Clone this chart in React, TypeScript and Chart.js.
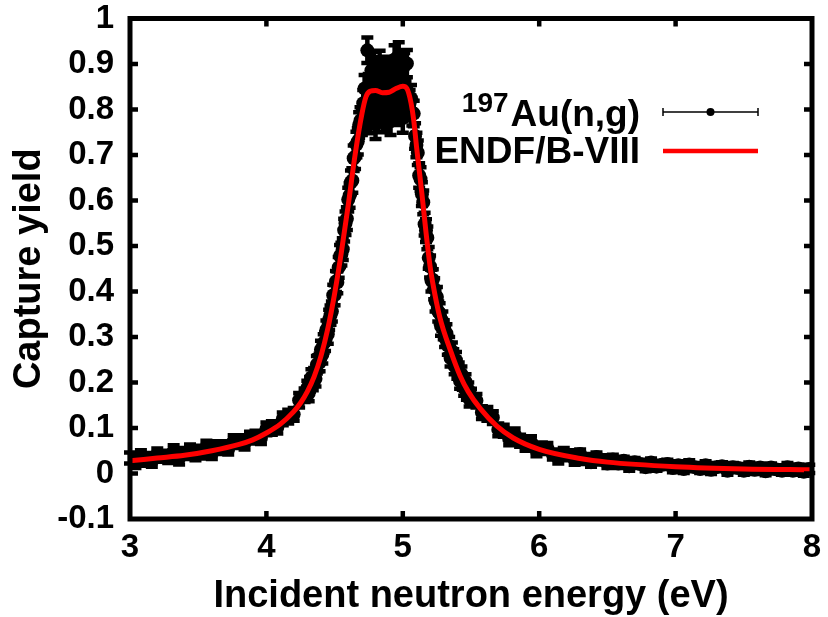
import React, { useEffect, useRef } from "react";
import { Chart, registerables } from "chart.js";

Chart.register(...registerables);

const FONT = "'Liberation Sans', Arial, Helvetica, sans-serif";

// Axis ticks
const xTickValues = [3, 4, 5, 6, 7, 8];
const yTickValues = [-0.1, 0, 0.1, 0.2, 0.3, 0.4, 0.5, 0.6, 0.7, 0.8, 0.9, 1];

// Axis titles and legend labels
const xTitle = "Incident neutron energy (eV)";
const yTitle = "Capture yield";
const expLabelSup = "197";
const expLabel = "Au(n,g)";
const endfLabel = "ENDF/B-VIII";

// ENDF/B-VIII evaluated curve
const endfEnergy = [
  3.0, 3.2, 3.4, 3.6, 3.8, 3.9, 4.0, 4.1, 4.2, 4.25, 4.3, 4.35, 4.4, 4.45, 4.5,
  4.55, 4.6, 4.65, 4.7, 4.73, 4.76, 4.8, 4.85, 4.9, 4.95, 5.0, 5.03, 5.06, 5.08,
  5.1, 5.14, 5.17, 5.2, 5.22, 5.27, 5.35, 5.42, 5.48, 5.57, 5.69, 5.81, 6.0, 6.3,
  6.5, 7.0, 7.5, 8.0,
];
const endfYield = [
  0.028, 0.034, 0.04, 0.05, 0.064, 0.074, 0.089, 0.108, 0.136, 0.155, 0.18, 0.213,
  0.258, 0.318, 0.395, 0.487, 0.59, 0.7, 0.79, 0.828, 0.84, 0.842, 0.837, 0.838,
  0.846, 0.851, 0.846, 0.815, 0.777, 0.72, 0.615, 0.53, 0.455, 0.418, 0.345, 0.27,
  0.215, 0.18, 0.142, 0.104, 0.078, 0.053, 0.033, 0.025, 0.015, 0.01, 0.008,
];

const expEnergy = [
  3.0, 3.04, 3.08, 3.12, 3.16, 3.2, 3.24, 3.28, 3.32, 3.36, 3.4, 3.44, 3.48, 3.52,
  3.56, 3.6, 3.64, 3.68, 3.72, 3.76, 3.8, 3.84, 3.88, 3.92, 3.96, 4.0, 4.04, 4.08,
  4.12, 4.16, 4.2, 4.24, 4.28,
  4.3, 4.31, 4.32, 4.33, 4.34, 4.35, 4.36, 4.37, 4.38, 4.39, 4.4, 4.41, 4.42, 4.43,
  4.44, 4.45, 4.46, 4.47, 4.48, 4.49, 4.5, 4.51, 4.52, 4.53, 4.54, 4.55, 4.56, 4.57,
  4.58, 4.59, 4.6, 4.61, 4.62, 4.63, 4.64, 4.65, 4.66, 4.67, 4.68, 4.69, 4.7, 4.71,
  4.72, 4.73, 4.74, 4.75, 4.76, 4.77, 4.78, 4.79, 4.8, 4.81, 4.82, 4.83, 4.84, 4.85,
  4.86, 4.87, 4.88, 4.89, 4.9, 4.91, 4.92, 4.93, 4.94, 4.95, 4.96, 4.97, 4.98, 4.99,
  5.0, 5.01, 5.02, 5.03, 5.04,
  5.05, 5.06, 5.07, 5.08, 5.09, 5.1, 5.11, 5.12, 5.13, 5.14, 5.15, 5.16, 5.17, 5.18,
  5.19, 5.2, 5.21, 5.22, 5.23, 5.24, 5.25, 5.26, 5.27, 5.28, 5.29, 5.3, 5.31, 5.32,
  5.33, 5.34, 5.35, 5.36, 5.37, 5.38, 5.39, 5.4, 5.41, 5.42, 5.43, 5.44, 5.45, 5.46,
  5.47, 5.48, 5.49, 5.5,
  5.54, 5.58, 5.62, 5.66, 5.7, 5.74, 5.78, 5.82, 5.86, 5.9, 5.94, 5.98, 6.02, 6.06,
  6.1, 6.14, 6.18, 6.22, 6.26, 6.3, 6.34, 6.38, 6.42, 6.46, 6.5, 6.54, 6.58, 6.62,
  6.66, 6.7, 6.74, 6.78, 6.82, 6.86, 6.9, 6.94, 6.98, 7.02, 7.06, 7.1, 7.14, 7.18,
  7.22, 7.26, 7.3, 7.34, 7.38, 7.42, 7.46, 7.5, 7.54, 7.58, 7.62, 7.66, 7.7, 7.74,
  7.78, 7.82, 7.86, 7.9, 7.94, 7.98,
];
const expYield = [
  0.034, 0.025, 0.04, 0.031, 0.027, 0.042, 0.038, 0.034, 0.049, 0.034, 0.044, 0.051,
  0.041, 0.047, 0.059, 0.044, 0.058, 0.057, 0.054, 0.071, 0.07, 0.066, 0.08, 0.08,
  0.078, 0.098, 0.1, 0.101, 0.12, 0.125, 0.13, 0.161, 0.172,
  0.188, 0.176, 0.196, 0.211, 0.2, 0.214, 0.208, 0.239, 0.242, 0.244, 0.272, 0.261,
  0.286, 0.29, 0.316, 0.306, 0.338, 0.348, 0.356, 0.392, 0.392, 0.422, 0.42, 0.453,
  0.478, 0.482, 0.493, 0.535, 0.55, 0.56, 0.602, 0.611, 0.64, 0.644, 0.693, 0.696,
  0.723, 0.73, 0.766, 0.776, 0.774, 0.814,
  0.846, 0.788, 0.93, 0.848, 0.78, 0.886, 0.822, 0.897, 0.767, 0.861, 0.805, 0.899,
  0.828, 0.877, 0.781, 0.861, 0.791, 0.887, 0.843, 0.774, 0.876, 0.818, 0.91, 0.796,
  0.863, 0.919, 0.81, 0.881, 0.781, 0.895, 0.833, 0.901, 0.805,
  0.814, 0.825, 0.793, 0.791, 0.742, 0.722, 0.705, 0.655, 0.647, 0.614, 0.596, 0.548,
  0.534, 0.518, 0.474, 0.455, 0.424, 0.426, 0.406, 0.379, 0.388, 0.356, 0.352, 0.324,
  0.335, 0.316, 0.298, 0.308, 0.281, 0.281, 0.254, 0.269, 0.254, 0.236, 0.249, 0.226,
  0.226, 0.203, 0.218, 0.201, 0.188, 0.202, 0.178, 0.184, 0.163, 0.171,
  0.16, 0.134, 0.131, 0.123, 0.096, 0.094, 0.076, 0.086, 0.072, 0.062, 0.069, 0.05,
  0.056, 0.055, 0.042, 0.034, 0.045, 0.04, 0.03, 0.043, 0.032, 0.025, 0.036, 0.03,
  0.022, 0.031, 0.022, 0.028, 0.016, 0.025, 0.021, 0.014, 0.024, 0.015, 0.019, 0.021,
  0.012, 0.018, 0.01, 0.02, 0.014, 0.01, 0.018, 0.008, 0.014, 0.016, 0.006, 0.014,
  0.012, 0.006, 0.015, 0.008, 0.013, 0.005, 0.013, 0.009, 0.006, 0.014, 0.006, 0.011,
  0.004, 0.01,
];
const expError = [
  0.012, 0.013, 0.011, 0.014, 0.012, 0.013, 0.012, 0.011, 0.013, 0.014, 0.012, 0.013,
  0.012, 0.014, 0.013, 0.012, 0.013, 0.014, 0.012, 0.013, 0.014, 0.013, 0.012, 0.014,
  0.013, 0.014, 0.015, 0.013, 0.014, 0.015, 0.014, 0.016, 0.015,
  0.016, 0.017, 0.016, 0.018, 0.017, 0.018, 0.017, 0.019, 0.018, 0.019, 0.02, 0.019,
  0.02, 0.021, 0.02, 0.021, 0.022, 0.021, 0.022, 0.023, 0.022, 0.023, 0.024, 0.023,
  0.024, 0.025, 0.024, 0.025, 0.026, 0.025, 0.026, 0.027, 0.026, 0.027, 0.028, 0.027,
  0.028, 0.029, 0.028, 0.029, 0.03, 0.029,
  0.03, 0.031, 0.028, 0.03, 0.032, 0.029, 0.031, 0.03, 0.032, 0.029, 0.031, 0.03,
  0.032, 0.029, 0.031, 0.03, 0.032, 0.029, 0.031, 0.03, 0.032, 0.029, 0.031, 0.03,
  0.032, 0.029, 0.031, 0.03, 0.032, 0.029, 0.031, 0.03, 0.029,
  0.029, 0.029, 0.028, 0.028, 0.028, 0.027, 0.027, 0.027, 0.026, 0.026, 0.026, 0.025,
  0.025, 0.025, 0.024, 0.024, 0.024, 0.023, 0.023, 0.023, 0.022, 0.022, 0.022, 0.021,
  0.021, 0.021, 0.02, 0.02, 0.02, 0.019, 0.019, 0.019, 0.019, 0.018, 0.018, 0.018,
  0.018, 0.017, 0.017, 0.017, 0.017, 0.016, 0.016, 0.016, 0.016, 0.015,
  0.015, 0.014, 0.015, 0.014, 0.014, 0.013, 0.014, 0.013, 0.013, 0.012, 0.013, 0.012,
  0.012, 0.012, 0.011, 0.012, 0.011, 0.011, 0.011, 0.01, 0.011, 0.01, 0.01, 0.01,
  0.01, 0.01, 0.01, 0.009, 0.01, 0.009, 0.009, 0.009, 0.009, 0.009, 0.009, 0.009,
  0.009, 0.009, 0.009, 0.009, 0.009, 0.009, 0.009, 0.009, 0.009, 0.009, 0.009, 0.009,
  0.009, 0.009, 0.009, 0.009, 0.009, 0.009, 0.009, 0.009, 0.009, 0.009, 0.009, 0.009,
  0.009, 0.009,
];

const errorBarPlugin = {
  id: "errorBars",
  beforeDatasetsDraw(chart: any) {
    const { ctx, chartArea } = chart;
    const xs = chart.scales.x;
    const ys = chart.scales.y;
    ctx.save();
    ctx.beginPath();
    ctx.rect(chartArea.left - 7, chartArea.top, chartArea.right - chartArea.left + 14, chartArea.bottom - chartArea.top);
    ctx.clip();
    ctx.strokeStyle = "#000";
    ctx.lineWidth = 4.5;
    ctx.beginPath();
    const n = Math.min(expEnergy.length, expYield.length, expError.length);
    for (let i = 0; i < n; i++) {
      const px = xs.getPixelForValue(expEnergy[i]);
      const pTop = ys.getPixelForValue(expYield[i] + expError[i]);
      const pBot = ys.getPixelForValue(expYield[i] - expError[i]);
      ctx.moveTo(px, pTop);
      ctx.lineTo(px, pBot);
      ctx.moveTo(px - 6, pTop);
      ctx.lineTo(px + 6, pTop);
      ctx.moveTo(px - 6, pBot);
      ctx.lineTo(px + 6, pBot);
    }
    ctx.stroke();
    ctx.restore();
  },
};

const framePlugin = {
  id: "frameLegend",
  afterDraw(chart: any) {
    const { ctx, chartArea } = chart;
    const { left, right, top, bottom } = chartArea;
    const xs = chart.scales.x;
    const ys = chart.scales.y;
    ctx.save();
    // inward ticks on all four sides
    ctx.strokeStyle = "#000";
    ctx.lineWidth = 4.5;
    ctx.lineCap = "butt";
    ctx.beginPath();
    xTickValues.slice(1, -1).forEach((v) => {
      const px = xs.getPixelForValue(v);
      ctx.moveTo(px, bottom);
      ctx.lineTo(px, bottom - 8);
      ctx.moveTo(px, top);
      ctx.lineTo(px, top + 8);
    });
    yTickValues.slice(1, -1).forEach((v) => {
      const py = ys.getPixelForValue(v);
      ctx.moveTo(left, py);
      ctx.lineTo(left + 8, py);
      ctx.moveTo(right, py);
      ctx.lineTo(right - 8, py);
    });
    ctx.stroke();
    // frame
    ctx.lineWidth = 5;
    ctx.lineJoin = "miter";
    ctx.strokeRect(left, top, right - left, bottom - top);

    // legend
    ctx.fillStyle = "#000";
    ctx.textAlign = "right";
    ctx.textBaseline = "alphabetic";
    ctx.font = `bold 37px ${FONT}`;
    const textRight = 640;
    ctx.fillText(expLabel, textRight, 126);
    const w = ctx.measureText(expLabel).width;
    ctx.font = `bold 28px ${FONT}`;
    ctx.fillText(expLabelSup, textRight - w - 2, 112);
    ctx.font = `bold 37px ${FONT}`;
    ctx.fillText(endfLabel, textRight, 163);

    // legend samples
    const sx1 = 663;
    const sx2 = 758;
    const sy1 = 112;
    ctx.lineWidth = 1.5;
    ctx.beginPath();
    ctx.moveTo(sx1, sy1);
    ctx.lineTo(sx2, sy1);
    ctx.moveTo(sx1, sy1 - 4);
    ctx.lineTo(sx1, sy1 + 4);
    ctx.moveTo(sx2, sy1 - 4);
    ctx.lineTo(sx2, sy1 + 4);
    ctx.stroke();
    ctx.beginPath();
    ctx.arc((sx1 + sx2) / 2, sy1, 4, 0, Math.PI * 2);
    ctx.fill();
    ctx.strokeStyle = "#ff0000";
    ctx.lineWidth = 4.5;
    ctx.beginPath();
    ctx.moveTo(sx1, 151);
    ctx.lineTo(sx2, 151);
    ctx.stroke();
    ctx.restore();
  },
};

export default function App() {
  const canvasRef = useRef<HTMLCanvasElement | null>(null);

  useEffect(() => {
    document.body.style.margin = "0";
    const canvas = canvasRef.current;
    if (!canvas) return;
    const chart = new Chart(canvas, {
      type: "scatter",
      data: {
        datasets: [
          {
            type: "line",
            label: endfLabel,
            data: endfEnergy.map((e, i) => ({ x: e, y: endfYield[i] })),
            borderColor: "#ff0000",
            borderWidth: 5,
            pointRadius: 0,
            cubicInterpolationMode: "monotone",
            fill: false,
            order: 0,
          } as any,
          {
            type: "scatter",
            label: expLabelSup + expLabel,
            data: expEnergy.map((e, i) => ({ x: e, y: expYield[i] })),
            pointRadius: 7,
            pointBackgroundColor: "#000",
            pointBorderWidth: 0,
            borderColor: "#000",
            order: 1,
          } as any,
        ],
      },
      options: {
        animation: false,
        responsive: false,
        devicePixelRatio: 1,
        events: [],
        layout: { padding: { top: 18.5, right: 16, left: 0, bottom: 0 } },
        plugins: {
          legend: { display: false },
          tooltip: { enabled: false },
        },
        scales: {
          x: {
            type: "linear",
            min: 3,
            max: 8,
            afterBuildTicks: (scale: any) => {
              scale.ticks = xTickValues.map((v) => ({ value: v }));
            },
            afterFit: (scale: any) => {
              scale.height = 98;
              scale.paddingLeft = 0;
              scale.paddingRight = 0;
            },
            grid: { display: false, drawTicks: false },
            border: { display: false },
            ticks: {
              color: "#000",
              padding: 12,
              maxRotation: 0,
              autoSkip: false,
              font: { family: FONT, size: 33, weight: "bold", lineHeight: 1 },
              callback: (v: any) => String(v),
            },
            title: {
              display: true,
              text: xTitle,
              color: "#000",
              font: { family: FONT, size: 38, weight: "bold", lineHeight: 1.1 },
              padding: { top: 0, bottom: 0 },
            },
          },
          y: {
            type: "linear",
            min: -0.1,
            max: 1,
            afterBuildTicks: (scale: any) => {
              scale.ticks = yTickValues.map((v) => ({ value: v }));
            },
            afterFit: (scale: any) => {
              scale.width = 130;
              scale.paddingTop = 0;
              scale.paddingBottom = 0;
            },
            grid: { display: false, drawTicks: false },
            border: { display: false },
            ticks: {
              color: "#000",
              padding: 16,
              autoSkip: false,
              font: { family: FONT, size: 33, weight: "bold", lineHeight: 1 },
              callback: (v: any) => String(Math.round(Number(v) * 10) / 10),
            },
            title: {
              display: true,
              text: yTitle,
              color: "#000",
              font: { family: FONT, size: 38, weight: "bold", lineHeight: 1.2 },
              padding: { top: 7, bottom: 0 },
            },
          },
        },
      },
      plugins: [errorBarPlugin, framePlugin],
    });
    return () => chart.destroy();
  }, []);

  return (
    <div style={{ position: "absolute", left: 0, top: 0, width: 828, height: 617, background: "#fff" }}>
      <canvas ref={canvasRef} width={828} height={617} />
    </div>
  );
}
